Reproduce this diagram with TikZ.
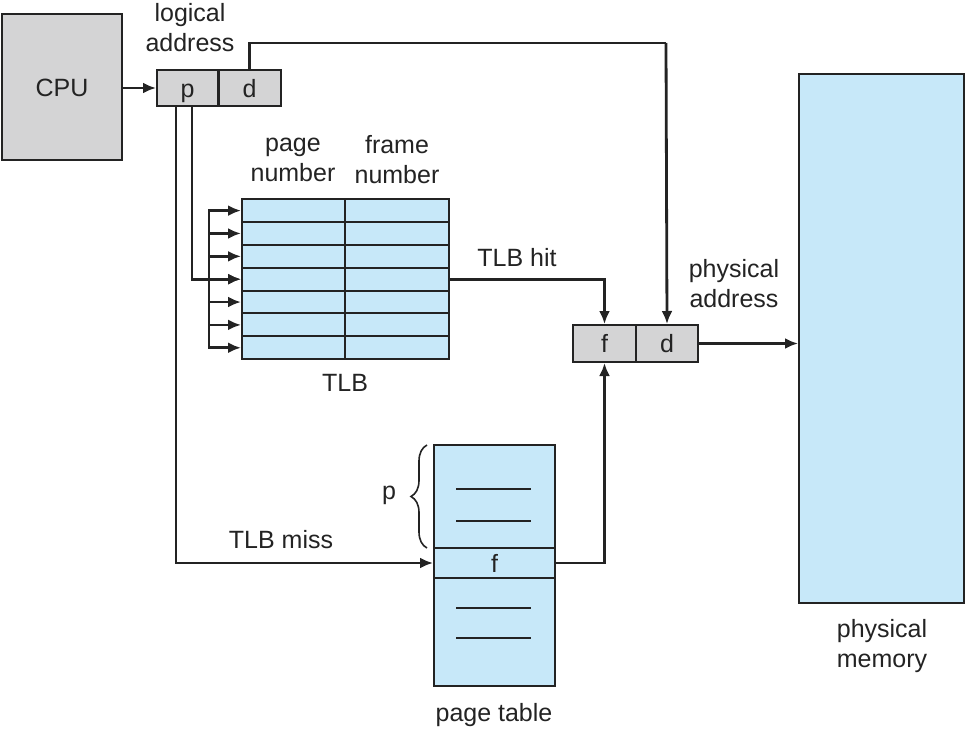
\documentclass[tikz,border=0pt]{standalone}
\usepackage{fontspec}
\setmainfont{Liberation Sans}
\usetikzlibrary{arrows.meta,decorations.pathreplacing}
\definecolor{regGray}{RGB}{212,212,213}
\definecolor{tblBlue}{RGB}{199,232,249}
\definecolor{ink}{RGB}{35,35,35}

\begin{document}
\begin{tikzpicture}[x=1pt, y=-1pt, font=\fontsize{25}{30}\selectfont, text=ink,
  box/.style={draw=ink, line width=2pt, inner sep=0pt, text height=18pt, text depth=0pt},
  reg/.style={box, fill=regGray, minimum height=36pt},
  cell/.style={box, fill=tblBlue},
  wire/.style={draw=ink, line width=2.8pt},
  conn/.style={wire, -{Latex[length=13pt,width=11pt]}},
  lbl/.style={align=center, inner sep=0pt}]
\useasboundingbox (0,0) rectangle (966,731);

\node[reg, minimum width=120pt, minimum height=146pt] (cpu) at (62,87) {CPU};
\node[reg, minimum width=61pt] (lap) at (187.5,88) {p};
\node[reg, minimum width=62pt] (lad) at (249.5,88) {d};
\node[lbl] (lalabel) at (190,28) {logical\\address};

\coordinate (bus) at (209,0);
\foreach \i in {0,...,6} {
  \node[cell, minimum width=103pt, minimum height=22.86pt] (tp\i) at (293.5, 210.6+22.86*\i) {};
  \node[cell, minimum width=104pt, minimum height=22.86pt] (tf\i) at (397, 210.6+22.86*\i) {};
  \draw[conn] (tp\i.west -| bus) -- (tp\i.west);
}
\draw[wire, line cap=rect] (tp0.west -| bus) -- (tp6.west -| bus);
\node[lbl] (pnlabel) at (293,160) {page\\number};
\node[lbl] (fnlabel) at (397,160) {frame\\number};
\node[lbl] (tlblabel) at (345,383) {TLB};

\node[reg, minimum width=63pt, minimum height=37pt] (paf) at (604.5,343.5) {f};
\node[reg, minimum width=62pt, minimum height=37pt] (pad) at (667,343.5) {d};
\node[lbl] (palabel) at (734,284) {physical\\address};

\node[cell, minimum width=165pt, minimum height=529pt] (mem) at (881.5,338.5) {};
\node[lbl] (memlabel) at (882,646) {physical\\memory};

\node[cell, minimum width=121pt, minimum height=241pt] (pt) at (494.5,565.5) {};
\node[cell, minimum width=121pt, minimum height=30pt] (ptf) at (494.5,563) {f};
\foreach \y in {489,521,608,638}
  \draw[ink, line width=1.8pt] (456,\y) -- (531,\y);
\draw[ink, line width=1.6pt, decorate, decoration={brace, amplitude=16pt}] (427,548) -- (427,445);
\node[lbl] (plabel) at (389,495) {p};
\node[lbl] (ptlabel) at (494,715) {page table};

\coordinate (dturn) at (666,43);
\draw[conn] (cpu.east |- lap) -- (lap.west);
\draw[wire] (lad.north) |- (dturn);
\draw[conn] (dturn) -- (pad.north);
\draw[conn] ([xshift=4.5pt]lap.south) |- (tp3.west);
\draw[conn] ([xshift=-11.5pt]lap.south) |- (ptf.west);
\draw[conn] (tf3.east) -| (paf.north);
\draw[conn] (ptf.east) -| (paf.south);
\draw[conn] (pad.east) -- (pad.east -| mem.west);
\node[lbl] (hitlabel) at (517,258) {TLB hit};
\node[lbl] (misslabel) at (281,540) {TLB miss};
\end{tikzpicture}
\end{document}
